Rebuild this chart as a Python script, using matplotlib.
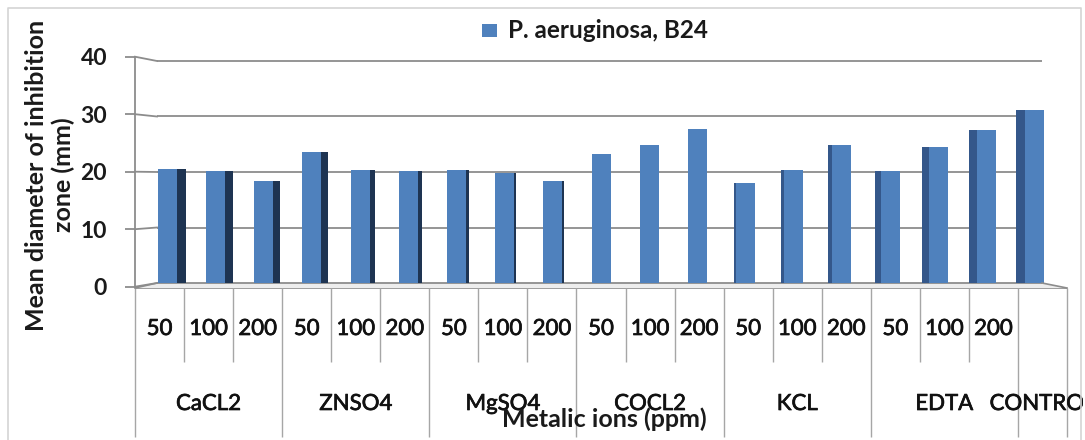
import numpy as np
import matplotlib
matplotlib.use("Agg")
import matplotlib.pyplot as plt
from matplotlib.lines import Line2D
from matplotlib.patches import Rectangle
from matplotlib.transforms import Bbox
import matplotlib.patheffects as pe

# ---------------- data ----------------
groups = ["CaCL2", "ZNSO4", "MgSO4", "COCL2", "KCL", "EDTA", "CONTROL"]
concentrations = ["50", "100", "200"]
sub_labels = concentrations * 6 + [""]
values = [20.6, 20.1, 18.4,
          23.6, 20.4, 20.1,
          20.4, 19.8, 18.4,
          23.2, 24.8, 27.8,
          18.1, 20.4, 24.8,
          20.2, 24.5, 27.5,
          31.2]
yticks = [0, 10, 20, 30, 40]
series_name = "P. aeruginosa, B24"
x_title = "Metalic ions (ppm)"
y_title = "Mean diameter of inhibition\nzone (mm)"

W, H = 1085, 440
FONT = "Lato"
front_col = "#4F81BD"
dark_right = "#1E3452"
dark_left = "#34578A"
grid_col = "#8C8C8C"
sep_col = "#A6A6A6"
txt_col = "#111111"
thick = [pe.withStroke(linewidth=0.5, foreground=txt_col)]

fig = plt.figure(figsize=(W / 100, H / 100), dpi=100)


def fx(x):
    return x / W


def fy(y):
    return 1 - y / H


def fline(xs, ys, **kw):
    fig.add_artist(Line2D([fx(v) for v in xs], [fy(v) for v in ys],
                          transform=fig.transFigure, **kw))


# outer border
fline([8, 8, 1081, 1081], [440, 8, 8, 440], color="#D4D4D4", lw=1.2)

# ---------------- bars axes (back wall scale) ----------------
n = len(values)
bx0, bx1 = 143.4, 1058.6
by0, by1 = 283, 61
ax = fig.add_axes([fx(bx0), fy(by0), (bx1 - bx0) / W, (by0 - by1) / H])
ax.set_xlim(-0.5, n - 0.5)
ax.set_ylim(0, 40)
ax.axis("off")
pxu = (bx1 - bx0) / n  # pixels per category in bars axes


def px2data(xp):
    return (xp - bx0) / pxu - 0.5


# gridlines on back wall
gx0, gx1 = px2data(157), px2data(1042)
ax.hlines(yticks, gx0, gx1, color=grid_col, lw=1.3, zorder=1, clip_on=False)
# left wall diagonals
for v in yticks:
    fline([135, 157], [286.7 - 5.75 * v, 283 - 5.55 * v], color=grid_col, lw=1.3)
# floor edges
fline([135, 157], [288, 283], color=grid_col, lw=1.2)
fline([1042, 1067], [283, 288], color=grid_col, lw=1.2)
fig.add_artist(plt.Polygon([[fx(135), fy(288)], [fx(157), fy(283.5)], [fx(1042), fy(283.5)],
                            [fx(1067), fy(288)]], closed=True, transform=fig.transFigure,
                           facecolor="#EDEDED", edgecolor="none", zorder=0))

idx = np.arange(n)
fw = 19 / pxu
side_px = np.where(idx < 10, 0.95 * (9.4 - idx), 1.3 * (idx - 10.8))
side_px = np.clip(side_px, 0, None)
sw = side_px / pxu
right_side = idx < 10
for i in idx:
    if sw[i] <= 0:
        continue
    if right_side[i]:
        ax.bar(i + fw / 2 + sw[i] / 2, values[i], width=sw[i], color=dark_right,
               zorder=3, linewidth=0, clip_on=False)
    else:
        ax.bar(i - fw / 2 - sw[i] / 2, values[i], width=sw[i], color=dark_left,
               zorder=3, linewidth=0, clip_on=False)
ax.bar(idx, values, width=fw, color=front_col, zorder=4, linewidth=0, clip_on=False)

# ---------------- front value axis ----------------
fa = fig.add_axes([fx(135), fy(286.7), 0.0001, (286.7 - 56.7) / H])
fa.set_ylim(0, 40)
fa.set_yticks(yticks)
fa.set_xticks([])
for s in ["top", "right", "bottom"]:
    fa.spines[s].set_visible(False)
fa.spines["left"].set_color(grid_col)
fa.spines["left"].set_linewidth(1.3)
fa.tick_params(axis="y", length=7, width=1.3, color=grid_col, pad=13)
fa.set_yticklabels([str(t) for t in yticks], fontsize=16.5, fontweight="bold",
                   family=FONT, color="#1A1A1A")
fa.patch.set_visible(False)

# ---------------- category axis ----------------
cx0, cx1 = 135, 1067
cy0, cy1 = 288, 437
ca = fig.add_axes([fx(cx0), fy(cy1), (cx1 - cx0) / W, (cy1 - cy0) / H])
ca.set_xlim(-0.5, n - 0.5)
ca.set_ylim(cy1, cy0)
ca.axis("off")
ca.hlines(cy0, -0.5, n - 0.5, color=grid_col, lw=1.2)
for k in range(n + 1):
    major = (k % 3 == 0) or k >= n - 1
    ca.vlines(k - 0.5, cy0, cy1 if major else 362, color=sep_col, lw=1.0, clip_on=False)
for i, lab in enumerate(sub_labels):
    ca.text(i, 329, lab, ha="center", va="center", fontsize=16, family=FONT,
            color=txt_col, path_effects=thick)
group_pos = [1, 4, 7, 10, 13, 16, 18]
clip = Bbox([[0, 0], [1083, H]])
for g, p in zip(groups, group_pos):
    t = ca.text(p, 404, g, ha="center", va="center", fontsize=16, family=FONT,
                color=txt_col, path_effects=thick)
    t.set_clip_box(clip)
    t.set_clip_on(True)

# titles
fig.text(fx(604), fy(419), x_title, ha="center", va="center", fontsize=18,
         fontweight="bold", family=FONT, color="#1A1A1A")
fig.text(fx(50), fy(175), y_title, ha="center", va="center", rotation=90,
         fontsize=18, fontweight="bold", family=FONT, color="#1A1A1A",
         multialignment="center", linespacing=1.15)

# legend
fig.add_artist(Rectangle((fx(482), fy(37)), 15 / W, 13 / H, transform=fig.transFigure,
                         facecolor=front_col, edgecolor="none"))
fig.text(fx(508), fy(31), series_name, ha="left", va="center", fontsize=17.5,
         fontweight="bold", family=FONT, color="#1A1A1A")

fig.savefig("out.png", dpi=100)
